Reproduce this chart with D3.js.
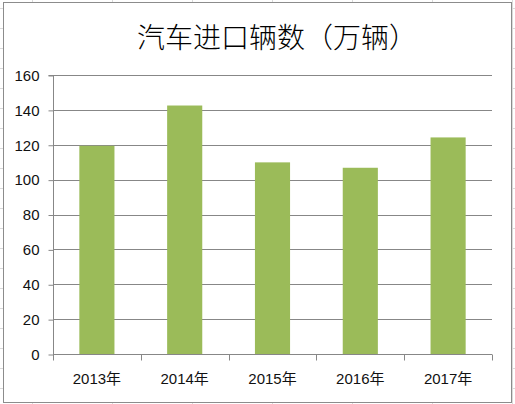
<!DOCTYPE html>
<html><head><meta charset="utf-8">
<script src="https://cdn.jsdelivr.net/npm/d3@7"></script>
<style>body{margin:0;background:#fff}svg{display:block}</style>
</head><body>
<script>
const categories = ["2013年","2014年","2015年","2016年","2017年"];
const values = [119.4, 142.5, 109.9, 106.8, 124.2];
const yTicks = [0,20,40,60,80,100,120,140,160];
const title = "汽车进口辆数（万辆）";

(function () {
const W = 515, H = 404;
const svg = d3.select("body").append("svg").attr("width", W).attr("height", H);

// faint spreadsheet cell lines behind the chart
const bg = svg.append("g").attr("stroke", "#dadada").attr("stroke-width", 1);
d3.range(32, W, 80).forEach(px => bg.append("line").attr("x1", px+0.5).attr("x2", px+0.5).attr("y1", 0).attr("y2", H));
d3.range(8, H, 20).forEach(py => bg.append("line").attr("x1", 0).attr("x2", W).attr("y1", py+0.5).attr("y2", py+0.5));

// chart area
svg.append("rect").attr("x", 3.5).attr("y", 2.5).attr("width", 508).attr("height", 400)
  .attr("fill", "#fff").attr("stroke", "#8c8c8c").attr("stroke-width", 1);

const pL = 53, pR = 492, pT = 75, pB = 354;
const x = d3.scaleBand().domain(categories).range([pL, pR]).paddingInner(0.6).paddingOuter(0.3);
const y = d3.scaleLinear().domain([0, 160]).range([pB, pT]);

// gridlines
svg.append("g").selectAll("line").data(yTicks.filter(d => d > 0)).join("line")
  .attr("x1", pL).attr("x2", pR)
  .attr("y1", d => Math.round(y(d)) + 0.5).attr("y2", d => Math.round(y(d)) + 0.5)
  .attr("stroke", "#878787").attr("stroke-width", 1);

// bars
svg.append("g").selectAll("rect").data(values).join("rect")
  .attr("x", (d, i) => x(categories[i]))
  .attr("width", x.bandwidth())
  .attr("y", d => y(d))
  .attr("height", d => y(0) - y(d))
  .attr("fill", "#9bbb59");

// y axis
const yAxis = d3.axisLeft(y).tickValues(yTicks).tickSize(5).tickPadding(9);
const gy = svg.append("g").attr("transform", `translate(${pL + 0.5},0.5)`).call(yAxis);
gy.select(".domain").attr("stroke", "#878787").attr("d", `M-5,${pT}H0V${pB}`);
gy.selectAll(".tick line").attr("stroke", "#878787");
gy.selectAll("text").attr("font-family", "Liberation Sans, Arial, sans-serif").attr("font-size", 15).attr("fill", "#111");

// x axis
const bounds = categories.map(c => x(c) - x.step() * x.paddingInner() / 2).concat([pR]);
const gx = svg.append("g").attr("transform", `translate(0,${pB + 0.5})`);
gx.append("line").attr("x1", pL).attr("x2", pR).attr("y1", 0).attr("y2", 0).attr("stroke", "#878787");
gx.selectAll("line.t").data(bounds).join("line").attr("class", "t")
  .attr("x1", d => Math.round(d) + 0.5).attr("x2", d => Math.round(d) + 0.5)
  .attr("y1", 0).attr("y2", 6).attr("stroke", "#878787");
gx.selectAll("text").data(categories).join("text")
  .attr("x", d => x(d) + x.bandwidth() / 2).attr("y", 29)
  .attr("text-anchor", "middle")
  .attr("font-family", "Liberation Sans, 'Noto Sans CJK SC', sans-serif").attr("font-size", 15).attr("fill", "#111")
  .text(d => d);

// title
svg.append("text").attr("x", 277).attr("y", 48).attr("text-anchor", "middle")
  .attr("font-family", "'Noto Sans CJK SC', sans-serif").attr("font-size", 28).attr("font-weight", 300)
  .attr("fill", "#000").text(title);
})();
</script>
</body></html>
